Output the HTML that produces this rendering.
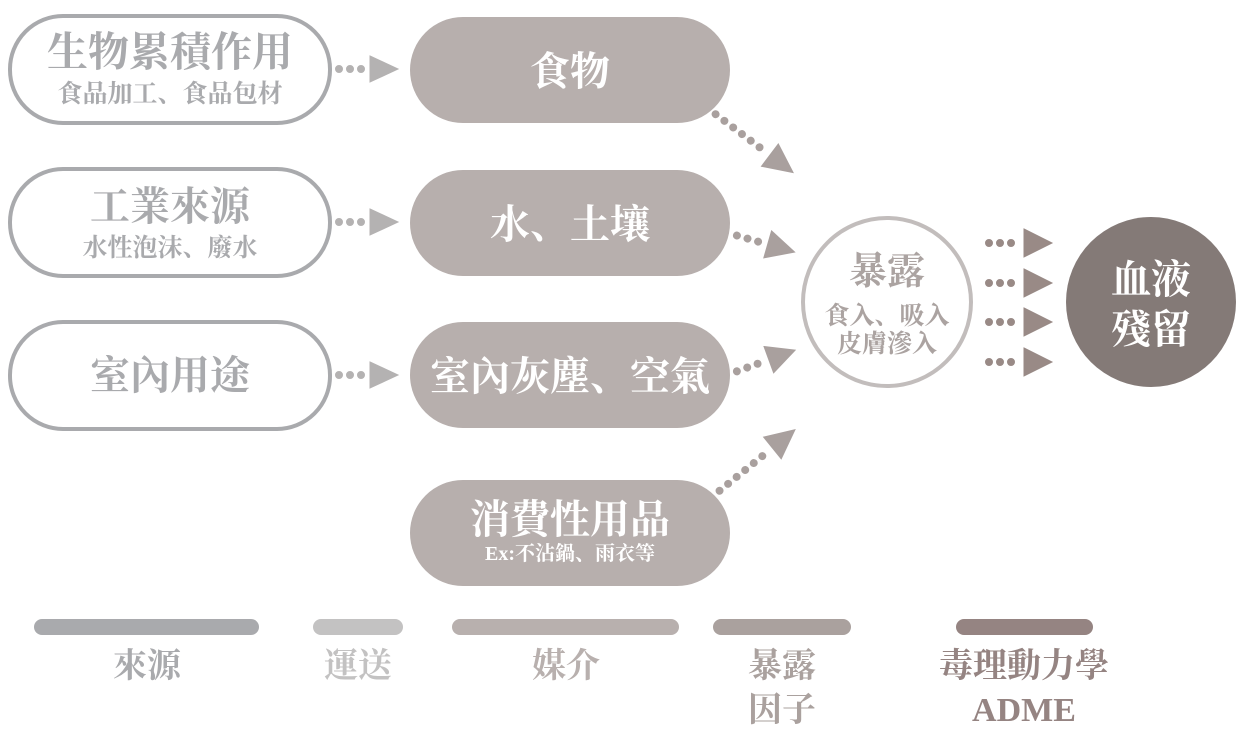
<!DOCTYPE html>
<html><head><meta charset="utf-8"><style>
html,body{margin:0;padding:0;background:#fff;}
body{width:1239px;height:726px;overflow:hidden;}
text{font-family:"Liberation Serif","Noto Serif CJK SC",serif;font-weight:bold;text-anchor:middle;}
</style></head><body>
<svg width="1239" height="726" viewBox="0 0 1239 726" xmlns="http://www.w3.org/2000/svg">
<defs>
<g id="a62"><line x1="3" y1="0" x2="28" y2="0" stroke-width="8" stroke-linecap="round" stroke-dasharray="0 11"/><polygon points="34,-13 62,0 34,13"/></g>
</defs>
<g fill="#fff" stroke="#a9aaad" stroke-width="4">
<rect x="10" y="16" width="320" height="107" rx="53"/>
<rect x="10" y="169" width="320" height="107" rx="53"/>
<rect x="10" y="322" width="320" height="107" rx="53"/>
</g>
<g fill="#a9aaad">
<text x="170" y="66" font-size="41">生物累積作用</text>
<text x="170" y="102" font-size="25">食品加工、食品包材</text>
<text x="170" y="220" font-size="40">工業來源</text>
<text x="170" y="256" font-size="25">水性泡沫、廢水</text>
<text x="170" y="389" font-size="40">室內用途</text>
</g>
<g fill="#b4b2b2" stroke="#b4b2b2">
<use href="#a62" x="336" y="69"/>
<use href="#a62" x="336" y="222"/>
<use href="#a62" x="336" y="375"/>
</g>
<g fill="#b7afad">
<rect x="410" y="17" width="320" height="106" rx="53"/>
<rect x="410" y="170" width="320" height="106" rx="53"/>
<rect x="410" y="322" width="320" height="106" rx="53"/>
<rect x="410" y="480" width="320" height="106" rx="53"/>
</g>
<g fill="#fff">
<text x="570" y="85" font-size="40">食物</text>
<text x="570" y="238" font-size="40">水、土壤</text>
<text x="570" y="390" font-size="40">室內灰塵、空氣</text>
<text x="570" y="533" font-size="40">消費性用品</text>
<text x="570" y="560" font-size="20">Ex:不沾鍋、雨衣等</text>
</g>
<g fill="#a9a09e" stroke="#a9a09e">
<g transform="translate(714,113) rotate(37)"><line x1="2" y1="0" x2="68" y2="0" stroke-width="8" stroke-linecap="round" stroke-dasharray="0 11"/><polygon points="70,-14 99,0 70,14"/></g>
<g transform="translate(735,235) rotate(16)"><line x1="2" y1="0" x2="30" y2="0" stroke-width="8" stroke-linecap="round" stroke-dasharray="0 11"/><polygon points="34,-14 62,0 34,14"/></g>
<g transform="translate(735,372) rotate(-20)"><line x1="2" y1="0" x2="32" y2="0" stroke-width="8" stroke-linecap="round" stroke-dasharray="0 11"/><polygon points="36,-14 64,0 36,14"/></g>
<g transform="translate(718,492) rotate(-39)"><line x1="2" y1="0" x2="68" y2="0" stroke-width="8" stroke-linecap="round" stroke-dasharray="0 11"/><polygon points="70,-14 99,0 70,14"/></g>
</g>
<circle cx="887" cy="302" r="84" fill="#fff" stroke="#c2bdbc" stroke-width="4"/>
<g fill="#aba3a1">
<text x="887" y="284" font-size="38">暴露</text>
<text x="887" y="324" font-size="25">食入、吸入</text>
<text x="887" y="352" font-size="25">皮膚滲入</text>
</g>
<g fill="#998a86" stroke="#998a86">
<g transform="translate(987,243)"><line x1="2" y1="0" x2="30" y2="0" stroke-width="8" stroke-linecap="round" stroke-dasharray="0 11"/><polygon points="37,-14 65,0 37,14"/></g>
<g transform="translate(987,283)"><line x1="2" y1="0" x2="30" y2="0" stroke-width="8" stroke-linecap="round" stroke-dasharray="0 11"/><polygon points="37,-14 65,0 37,14"/></g>
<g transform="translate(987,322)"><line x1="2" y1="0" x2="30" y2="0" stroke-width="8" stroke-linecap="round" stroke-dasharray="0 11"/><polygon points="37,-14 65,0 37,14"/></g>
<g transform="translate(987,362)"><line x1="2" y1="0" x2="30" y2="0" stroke-width="8" stroke-linecap="round" stroke-dasharray="0 11"/><polygon points="37,-14 65,0 37,14"/></g>
</g>
<circle cx="1151" cy="302" r="85" fill="#847a77"/>
<g fill="#fff">
<text x="1151" y="293" font-size="40">血液</text>
<text x="1151" y="343" font-size="40">殘留</text>
</g>
<rect x="34" y="619" width="225" height="16" rx="8" fill="#a9aaad"/>
<rect x="313" y="619" width="90" height="16" rx="8" fill="#c3c2c2"/>
<rect x="452" y="619" width="227" height="16" rx="8" fill="#b8b0ae"/>
<rect x="713" y="619" width="138" height="16" rx="8" fill="#aaa19e"/>
<rect x="956" y="619" width="137" height="16" rx="8" fill="#958482"/>
<text x="147" y="677" font-size="34" fill="#a9aaad">來源</text>
<text x="358" y="677" font-size="34" fill="#c3c2c2">運送</text>
<text x="566" y="677" font-size="34" fill="#b8b0ae">媒介</text>
<text x="782" y="677" font-size="34" fill="#aaa19e">暴露</text>
<text x="782" y="721" font-size="34" fill="#aaa19e">因子</text>
<text x="1024" y="677" font-size="34" fill="#958482">毒理動力學</text>
<text x="1024" y="721" font-size="34" fill="#958482">ADME</text>
</svg>
</body></html>
